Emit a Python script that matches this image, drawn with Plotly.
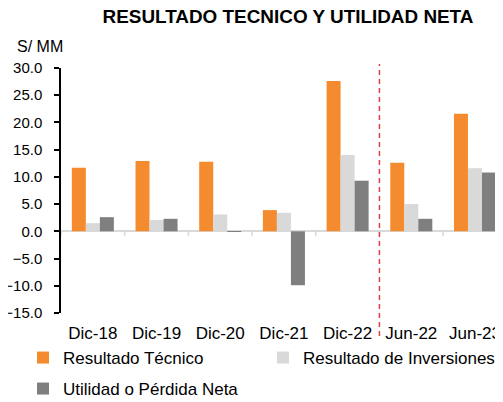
import plotly.graph_objects as go

categories = ["Dic-18", "Dic-19", "Dic-20", "Dic-21", "Dic-22", "Jun-22", "Jun-23"]
resultado_tecnico = [11.7, 12.9, 12.8, 3.9, 27.6, 12.6, 21.6]
resultado_inversiones = [1.5, 2.1, 3.1, 3.4, 14.0, 5.0, 11.6]
utilidad_neta = [2.6, 2.3, -0.1, -9.9, 9.3, 2.3, 10.8]
y_ticks = [-15, -10, -5, 0, 5, 10, 15, 20, 25, 30]

FONT = "Liberation Sans, Arial, sans-serif"
ORANGE = "#F58B2F"
LIGHT = "#D9D9D9"
DARK = "#7F7F7F"
FS = 17
OFF = 8  # page body margin
W, H = 503 - OFF, 402 - OFF
PL, PT, PB = 61 - OFF, 68 - OFF, 402 - 313
PW, PH = W - PL, H - PT - PB

def px_x(x):  # screen px -> paper x
    return (x - OFF - PL) / PW

def px_y(y):  # screen px -> paper y
    return (H - PB - (y - OFF)) / PH

fig = go.Figure()
fig.add_bar(x=categories, y=resultado_tecnico, name="Resultado Técnico",
            marker=dict(color=ORANGE, line=dict(width=0)), legend="legend")
fig.add_bar(x=categories, y=resultado_inversiones, name="Resultado de Inversiones",
            marker=dict(color=LIGHT, line=dict(width=0)), legend="legend")
fig.add_bar(x=categories, y=utilidad_neta, name="Utilidad o Pérdida Neta",
            marker=dict(color=DARK, line=dict(width=0)), legend="legend2")

shapes = []
for i in range(len(categories) + 1):
    shapes.append(dict(type="line", xref="x", yref="y", x0=i - 0.5, x1=i - 0.5,
                       y0=0, y1=-0.9, line=dict(color=LIGHT, width=1.5)))
shapes.append(dict(type="line", xref="x", yref="paper", x0=4.5, x1=4.5,
                   y0=px_y(336), y1=px_y(64), line=dict(color="#D9414B", width=1.5, dash="5px,4px")))

def leg(x_px, y_px, **kw):
    d = dict(orientation="h", xref="paper", yref="paper",
             x=px_x(x_px), xanchor="left", y=px_y(y_px), yanchor="middle",
             bgcolor="rgba(0,0,0,0)", font=dict(size=FS), borderwidth=0)
    d.update(kw)
    return d

fig.update_layout(
    width=W, height=H,
    margin=dict(l=PL, r=0, t=PT, b=PB, autoexpand=False),
    paper_bgcolor="white", plot_bgcolor="white",
    font=dict(family=FONT, size=FS, color="#000000"),
    barmode="group", bargap=0.34, bargroupgap=0,
    title=dict(text="<b>RESULTADO TECNICO Y UTILIDAD NETA</b>", x=(288 - OFF) / W, xanchor="center",
               xref="container", y=1 - (16.5 - OFF) / H, yanchor="middle", yref="container",
               font=dict(family=FONT, size=18.9, color="#000000")),
    xaxis=dict(type="category", categoryarray=categories, range=[-0.5, 6.44],
               showline=False, showgrid=False, zeroline=False, ticks="",
               ticklabelstandoff=8, tickfont=dict(size=FS), automargin=False),
    yaxis=dict(range=[-15, 30], tickvals=y_ticks, tickformat=".1f",
               showline=True, linecolor="#000000", linewidth=1.5,
               ticks="outside", ticklen=5, tickcolor="#000000", tickwidth=1.5,
               showgrid=False, zeroline=True, zerolinecolor=LIGHT, zerolinewidth=1.5,
               ticklabelstandoff=9, tickfont=dict(size=15), automargin=False),
    shapes=shapes,
    legend=leg(23, 358, entrywidth=195),
    legend2=leg(23, 389),
    annotations=[dict(text="S/ MM", xref="paper", yref="paper",
                      x=px_x(15), y=px_y(46), font=dict(size=16),
                      showarrow=False, xanchor="left", yanchor="middle")],
)

fig.write_html("out.html")
